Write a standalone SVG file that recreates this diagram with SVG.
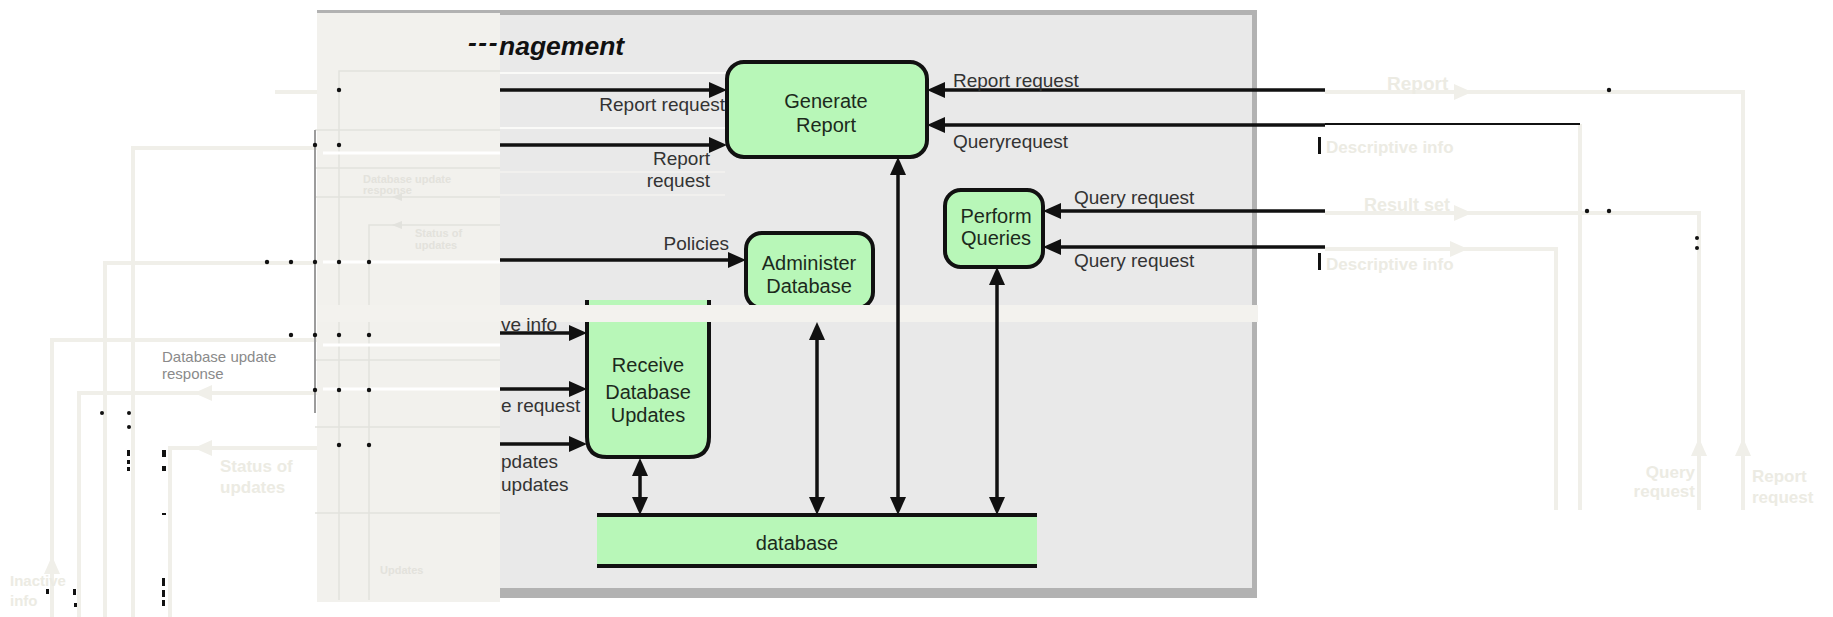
<svg xmlns="http://www.w3.org/2000/svg" width="1833" height="617" viewBox="0 0 1833 617">
<style>
.lbl{font-family:"Liberation Sans",Arial,sans-serif;font-size:19px;fill:#333;}
.box{fill:#b8f7b8;stroke:#111;stroke-width:4;}
.btxt{font-family:"Liberation Sans",Arial,sans-serif;font-size:20px;fill:#1c2a1c;text-anchor:middle;}
.con{fill:none;stroke:#111;stroke-width:3.5;}
.faint{fill:none;stroke:#f0efe9;stroke-width:4;}
.fgrey{fill:none;stroke:#e2e2dd;stroke-width:1.5;}
.ftxt{font-family:"Liberation Sans",Arial,sans-serif;font-size:17px;font-weight:bold;fill:#ecebe3;}
.wl{stroke:#fafaf8;stroke-width:2;fill:none;}
.dot{fill:#111;}
</style>
<defs>
<marker id="ah" viewBox="0 0 18 16" refX="12" refY="8" markerWidth="18" markerHeight="16" markerUnits="userSpaceOnUse" orient="auto-start-reverse"><path d="M0,0 L18,8 L0,16 z" fill="#111"/></marker>
<marker id="fah" viewBox="0 0 18 16" refX="12" refY="8" markerWidth="18" markerHeight="16" markerUnits="userSpaceOnUse" orient="auto"><path d="M0,0 L18,8 L0,16 z" fill="#f0efe9"/></marker>
</defs>
<rect x="0" y="0" width="1833" height="617" fill="#ffffff"/>

<g id="faint-left">
<path class="faint" d="M275,92 H317"/>
<path class="faint" d="M317,148 H133 V617"/>
<path class="faint" d="M317,263 H105 V617"/>
<path class="faint" d="M317,340 H52 V617"/>
<path class="faint" d="M317,393 H79 V617"/>
<path class="faint" d="M317,448 H170 V617"/>
<path class="faint" d="M220,393 H200" marker-end="url(#fah)"/>
<path class="faint" d="M220,448 H200" marker-end="url(#fah)"/>
<path class="faint" d="M52,580 V562" marker-end="url(#fah)"/>
<text class="lbl" x="162" y="362" style="font-size:15px;fill:#8a8a8a">Database update</text>
<text class="lbl" x="162" y="379" style="font-size:15px;fill:#8a8a8a">response</text>
<text class="ftxt" x="220" y="472">Status of</text>
<text class="ftxt" x="220" y="493">updates</text>
<text class="ftxt" x="10" y="586" style="font-size:15px">Inactive</text>
<text class="ftxt" x="10" y="606" style="font-size:15px">info</text>
<circle class="dot" cx="267" cy="262" r="2.2"/>
<circle class="dot" cx="291" cy="262" r="2.2"/>
<circle class="dot" cx="291" cy="335" r="2.2"/>
<circle class="dot" cx="102" cy="413" r="2"/>
<circle class="dot" cx="129" cy="413" r="2"/>
<circle class="dot" cx="129" cy="427" r="2"/>
<rect class="dot" x="127" y="450" width="3" height="6"/>
<rect class="dot" x="127" y="460" width="3" height="4"/>
<rect class="dot" x="127" y="467" width="3" height="4"/>
<rect class="dot" x="162" y="450" width="4" height="7"/>
<rect class="dot" x="162" y="466" width="4" height="5"/>
<rect class="dot" x="162" y="513" width="4" height="2"/>
<rect class="dot" x="162" y="578" width="3" height="8"/>
<rect class="dot" x="162" y="590" width="3" height="7"/>
<rect class="dot" x="162" y="600" width="3" height="6"/>
<rect class="dot" x="46" y="589" width="3" height="5"/>
<rect class="dot" x="73" y="589" width="3" height="6"/>
<rect class="dot" x="74" y="603" width="3" height="4"/>
</g>

<g id="faint-right">
<path class="faint" d="M1325,92 H1743 V510"/>
<path class="faint" d="M1580,124 V510"/>
<path class="faint" d="M1325,213 H1699 V510"/>
<path class="faint" d="M1325,249 H1556 V510"/>
<path class="faint" d="M1440,92 H1466" marker-end="url(#fah)"/>
<path class="faint" d="M1440,213 H1466" marker-end="url(#fah)"/>
<path class="faint" d="M1440,249 H1462" marker-end="url(#fah)"/>
<path class="faint" d="M1699,470 V444" marker-end="url(#fah)"/>
<path class="faint" d="M1743,470 V444" marker-end="url(#fah)"/>
<path d="M1325,124 H1580" stroke="#111" stroke-width="1.8" fill="none"/>
<text class="ftxt" x="1387" y="90" style="font-size:19px">Report</text>
<text class="ftxt" x="1326" y="153">Descriptive info</text>
<text class="ftxt" x="1364" y="211" style="font-size:18px">Result set</text>
<text class="ftxt" x="1326" y="270">Descriptive info</text>
<text class="ftxt" x="1695" y="478" text-anchor="end">Query</text>
<text class="ftxt" x="1695" y="497" text-anchor="end">request</text>
<text class="ftxt" x="1752" y="482">Report</text>
<text class="ftxt" x="1752" y="503">request</text>
<rect class="dot" x="1318" y="137" width="3" height="17"/>
<rect class="dot" x="1318" y="253" width="3" height="17"/>
<circle class="dot" cx="1609" cy="90" r="2.2"/>
<circle class="dot" cx="1587" cy="211" r="2.2"/>
<circle class="dot" cx="1609" cy="211" r="2.2"/>
<circle class="dot" cx="1697" cy="238" r="2"/>
<circle class="dot" cx="1697" cy="248" r="2"/>
</g>

<g id="panel">
<rect x="317" y="10" width="940" height="588" fill="#b2b2b2"/>
<rect x="317" y="15" width="935" height="573" fill="#e9e9e9"/>
<path class="wl" d="M337,73 H847"/>
<path class="wl" d="M317,128 H863"/>
<path d="M500,172 H725 M500,195 H725" stroke="#f3f2ef" stroke-width="1.5" fill="none"/>
</g>

<g id="overlay">
<rect x="317" y="13" width="183" height="589" fill="#f2f1ed"/>
<path class="fgrey" d="M339,600 V71 H500"/>
<path class="fgrey" d="M369,600 V225 H500"/>
<path class="fgrey" d="M315,168 H500"/>
<path class="fgrey" d="M315,197 H500"/>
<path class="fgrey" d="M315,130 H500"/>
<path class="fgrey" d="M315,360 H500"/>
<path class="fgrey" d="M315,427 H500"/>
<path class="fgrey" d="M315,513 H500"/>
<path d="M402,193 L392,197 L402,201 z M402,221 L392,225 L402,229 z" fill="#e2e2dd"/>
<path d="M315,130 V413" stroke="#9c9c9c" stroke-width="2" fill="none"/>
<path class="wl" d="M323,153 H500 M323,262 H500 M323,345 H500 M323,389 H500" style="stroke:#ffffff;stroke-width:3"/>
<text class="ftxt" x="363" y="183" style="font-size:11px;fill:#e3e2dc">Database update</text>
<text class="ftxt" x="363" y="194" style="font-size:11px;fill:#e3e2dc">response</text>
<text class="ftxt" x="415" y="237" style="font-size:11px;fill:#e3e2dc">Status of</text>
<text class="ftxt" x="415" y="249" style="font-size:11px;fill:#e3e2dc">updates</text>
<text class="ftxt" x="380" y="574" style="font-size:11px;fill:#e3e2dc">Updates</text>
<circle class="dot" cx="339" cy="90" r="2.2"/>
<circle class="dot" cx="315" cy="145" r="2.2"/>
<circle class="dot" cx="339" cy="145" r="2.2"/>
<circle class="dot" cx="315" cy="262" r="2.2"/>
<circle class="dot" cx="339" cy="262" r="2.2"/>
<circle class="dot" cx="369" cy="262" r="2.2"/>
<circle class="dot" cx="315" cy="335" r="2.2"/>
<circle class="dot" cx="339" cy="335" r="2.2"/>
<circle class="dot" cx="369" cy="335" r="2.2"/>
<circle class="dot" cx="315" cy="390" r="2.2"/>
<circle class="dot" cx="339" cy="390" r="2.2"/>
<circle class="dot" cx="369" cy="390" r="2.2"/>
<circle class="dot" cx="339" cy="445" r="2.2"/>
<circle class="dot" cx="369" cy="445" r="2.2"/>
</g>

<text id="title" x="468" y="51" font-family="Liberation Sans, Arial, sans-serif" font-size="26.5" font-weight="bold" font-style="italic" fill="#111" letter-spacing="1.5">---<tspan x="499" y="55" letter-spacing="0">nagement</tspan></text>

<g id="generate-report">
<rect class="box" x="727" y="62" width="200" height="95" rx="17"/>
<text class="btxt" x="826" y="108">Generate</text>
<text class="btxt" x="826" y="132">Report</text>
</g>
<g id="administer-database">
<rect class="box" x="746" y="233" width="127" height="75" rx="16"/>
<text class="btxt" x="809" y="270">Administer</text>
<text class="btxt" x="809" y="293">Database</text>
</g>
<g id="perform-queries">
<rect class="box" x="945" y="190" width="98" height="77" rx="16"/>
<text class="btxt" x="996" y="223">Perform</text>
<text class="btxt" x="996" y="245">Queries</text>
</g>
<g id="receive-database-updates">
<path class="box" d="M587,300 V437 Q587,457 607,457 H689 Q709,457 709,437 V300"/>
<text class="btxt" x="648" y="372">Receive</text>
<text class="btxt" x="648" y="399">Database</text>
<text class="btxt" x="648" y="422">Updates</text>
</g>
<g id="database">
<rect x="597" y="515" width="440" height="51" fill="#b8f7b8"/>
<path d="M597,515 H1037 M597,566 H1037" stroke="#111" stroke-width="4"/>
<text class="btxt" x="797" y="550">database</text>
</g>

<rect id="strip" x="317" y="305" width="941" height="17" fill="#f3f2ee"/>

<g id="connectors">
<path class="con" d="M500,90 H721" marker-end="url(#ah)"/>
<path class="con" d="M500,145 H721" marker-end="url(#ah)"/>
<path class="con" d="M500,260 H740" marker-end="url(#ah)"/>
<path class="con" d="M500,333 H581" marker-end="url(#ah)"/>
<path class="con" d="M500,389 H581" marker-end="url(#ah)"/>
<path class="con" d="M500,444 H581" marker-end="url(#ah)"/>
<path class="con" d="M1325,90 H933" marker-end="url(#ah)"/>
<path class="con" d="M1325,125 H933" marker-end="url(#ah)"/>
<path class="con" d="M1325,211 H1049" marker-end="url(#ah)"/>
<path class="con" d="M1325,247 H1049" marker-end="url(#ah)"/>
<path class="con" d="M898,163 V509" marker-start="url(#ah)" marker-end="url(#ah)"/>
<path class="con" d="M997,273 V509" marker-start="url(#ah)" marker-end="url(#ah)"/>
<path class="con" d="M817,328 V509" marker-start="url(#ah)" marker-end="url(#ah)"/>
<path class="con" d="M640,464 V509" marker-start="url(#ah)" marker-end="url(#ah)"/>
</g>

<g id="labels">
<text class="lbl" x="725" y="111" text-anchor="end">Report request</text>
<text class="lbl" x="710" y="165" text-anchor="end">Report</text>
<text class="lbl" x="710" y="187" text-anchor="end">request</text>
<text class="lbl" x="729" y="250" text-anchor="end">Policies</text>
<text class="lbl" x="953" y="87">Report request</text>
<text class="lbl" x="953" y="148">Queryrequest</text>
<text class="lbl" x="1074" y="204">Query request</text>
<text class="lbl" x="1074" y="267">Query request</text>
<text class="lbl" x="501" y="331">ve info</text>
<text class="lbl" x="501" y="412">e request</text>
<text class="lbl" x="501" y="468">pdates</text>
<text class="lbl" x="501" y="491">updates</text>
</g>
</svg>
